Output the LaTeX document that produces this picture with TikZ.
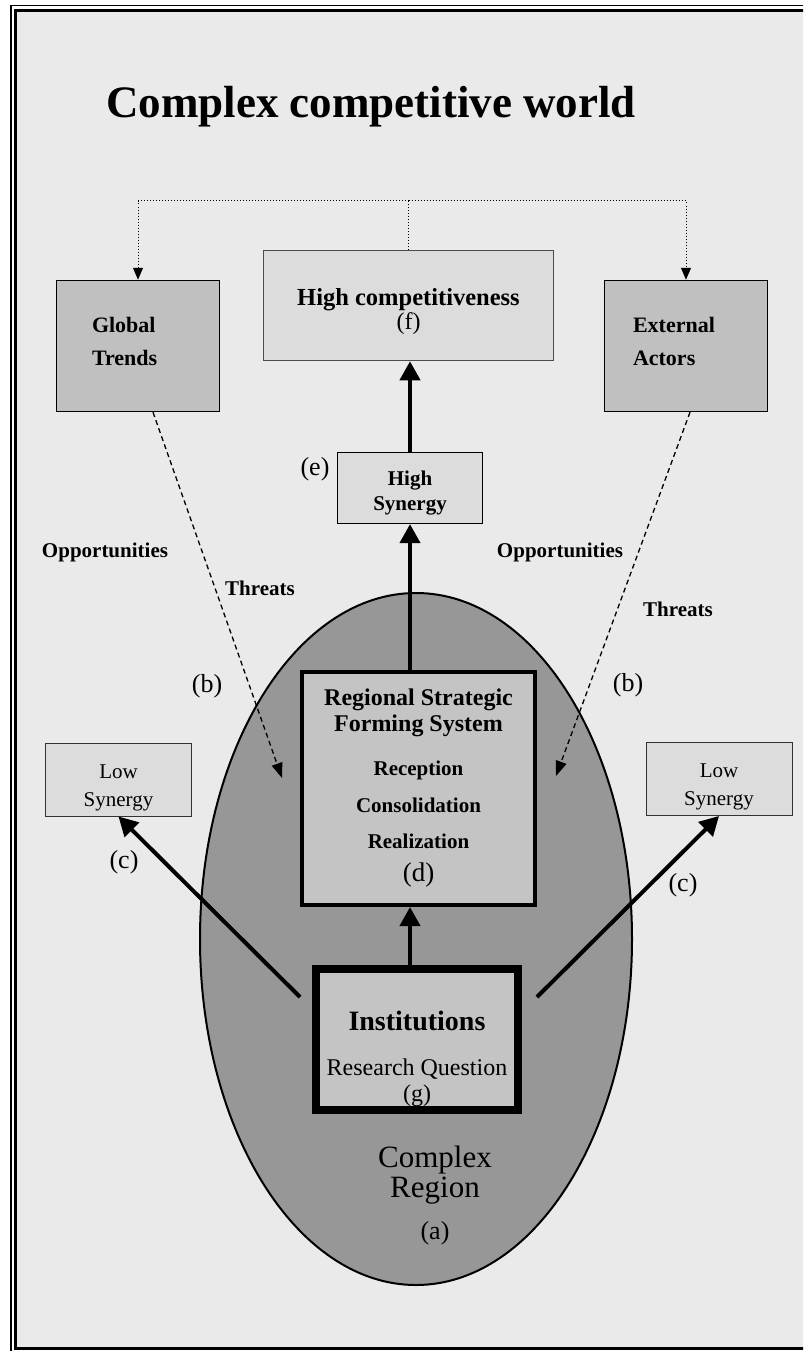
\documentclass[tikz,border=0pt]{standalone}
\usepackage{fontspec}
\setmainfont{Liberation Serif}
\usetikzlibrary{arrows.meta, positioning, calc, shapes.geometric}

\definecolor{paper}{HTML}{EAEAEA}
\definecolor{darkbox}{HTML}{C0C0C0}
\definecolor{lightbox}{HTML}{DCDCDC}
\definecolor{midbox}{HTML}{C4C4C4}
\definecolor{regiongray}{HTML}{979797}

% struts to push box text down or up
\newcommand{\padtop}[1]{\rule{0pt}{#1}}
\newcommand{\padbot}[1]{\rule[-#1]{0pt}{#1}}

\begin{document}
\begin{tikzpicture}[
    x=1pt, y=-1pt,
    >={Triangle[length=19pt, width=20pt]},
    actorbox/.style={rectangle, draw, line width=1.5pt, fill=darkbox, minimum width=163pt, minimum height=131pt, inner sep=0pt, align=left, font=\fontsize{22}{33}\selectfont\bfseries},
    outcomebox/.style={rectangle, draw=black!70, line width=1.5pt, fill=lightbox, minimum width=290pt, minimum height=110pt, align=center, font=\fontsize{24.5}{24}\selectfont\bfseries},
    synbox/.style={rectangle, draw, line width=1.2pt, fill=lightbox, minimum width=145pt, minimum height=71pt, align=center, font=\fontsize{21}{25}\selectfont\bfseries},
    lowbox/.style={rectangle, draw=black!80, line width=1pt, fill=lightbox, minimum width=146pt, minimum height=73pt, align=center, font=\fontsize{21}{28}\selectfont},
    systembox/.style={rectangle, draw, line width=4pt, fill=midbox, minimum width=233pt, minimum height=233pt, align=center, font=\fontsize{24}{26}\selectfont\bfseries},
    instbox/.style={rectangle, draw, line width=8pt, fill=midbox, minimum width=202pt, minimum height=141pt},
    region/.style={ellipse, draw, line width=2pt, fill=regiongray, minimum width=432pt, minimum height=692pt},
    letter/.style={font=\fontsize{26}{30}\selectfont},
    side/.style={font=\fontsize{21}{25}\selectfont\bfseries},
    heavy/.style={->, line width=4pt},
    influence/.style={-{Triangle[length=15pt, width=11pt]}, line width=1.3pt, dash pattern=on 5pt off 3.5pt},
    linkdot/.style={line width=1pt, dash pattern=on 1pt off 2pt},
    linkarrow/.style={linkdot, -{Triangle[length=12pt, width=10pt]}}
]
    % --- 1. Page and double frame ---
    \path[use as bounding box, clip] (0,0) rectangle (803,1351);
    \fill[white] (0,0) rectangle (803,1351);
    \draw[line width=1.5pt] (11,5.5) rectangle (815,1360);
    \draw[line width=3pt, fill=paper] (15,10.5) rectangle (808,1348);
    \node (title) [font=\fontsize{45}{50}\selectfont\bfseries, anchor=base] at (371,118) {Complex competitive world};

    % --- 2. The region and its inner boxes ---
    \node (region) [region] at (416,939) {};
    \node (system) [systembox] at (418.5,788.5) {Regional Strategic\\Forming System\\[18pt]{\fontsize{21}{26}\selectfont Reception}\\[11pt]{\fontsize{21}{26}\selectfont Consolidation}\\[10pt]{\fontsize{21}{26}\selectfont Realization}\\[7pt]{\mdseries\fontsize{27}{26}\selectfont (d)}};
    \node (inst) [instbox] at (417,1039.5) {};
    \node (insttext) [align=center, font=\fontsize{24}{26}\selectfont] at (417,1059) {{\bfseries\fontsize{28}{26}\selectfont Institutions}\\[19pt]Research Question\\(g)};
    \node (regname) [align=center, font=\fontsize{31}{30}\selectfont] at (435,1175) {Complex\\Region};
    \node (regtag) [font=\fontsize{26}{28}\selectfont] at (435,1233) {(a)};

    % --- 3. Outside world (top row) ---
    \node (global) [actorbox, text width=92pt] at (138,346) {Global\\Trends\padbot{10pt}};
    \node (external) [actorbox, text width=106pt] at (686,346) {External\\Actors\padbot{10pt}};
    \node (hicomp) [outcomebox] at (408.5,305.5) {\padtop{29pt}High competitiveness\\{\mdseries\fontsize{24}{24}\selectfont (f)}};
    \node (hisyn) [synbox] at (410,488) {\padtop{24pt}High\\Synergy};
    \node (lowL) [lowbox] at (118.5,779.5) {\padtop{30pt}Low\\Synergy};
    \node (lowR) [lowbox] at (719,779) {\padtop{30pt}Low\\Synergy};

    % --- 4. Free labels ---
    \node (oppL) [side] at (105,552) {Opportunities};
    \node (thrL) [side] at (260,588) {Threats};
    \node (bL) [letter] at (207,686) {(b)};
    \node (oppR) [side] at (560,552) {Opportunities};
    \node (thrR) [side] at (678,609) {Threats};
    \node (bR) [letter] at (628,685) {(b)};
    \node (tagE) [letter] at (315,469) {(e)};
    \node (cL) [letter] at (124,862) {(c)};
    \node (cR) [letter] at (683,885) {(c)};

    % --- 5. Connectors ---
    % dotted feedback towards the outside world
    \coordinate (branch) at (hicomp.north |- 0,201);
    \draw[linkdot] (hicomp.north) -- (branch);
    \draw[linkarrow] (branch) -| (global.north);
    \draw[linkarrow] (branch) -| (external.north);
    % vertical chain
    \coordinate (chainbase) at (hisyn.center |- inst.north);
    \draw[heavy] (chainbase) -- (hisyn.center |- system.south);
    \draw[heavy] (hisyn.center |- system.north) -- (hisyn.south);
    \draw[heavy] (hisyn.north) -- (hisyn.center |- hicomp.south);
    % diagonal arrows to low synergy
    \coordinate (leftfoot) at (300,997);
    \coordinate (rightfoot) at (537,997);
    \draw[heavy] (leftfoot) -- (lowL.south);
    \draw[heavy] (rightfoot) -- (lowR.south);
    % dashed influences (b)
    \coordinate (trendsin) at (282,778);
    \coordinate (actorsin) at (556,776);
    \draw[influence] (global.south -| 153,0) -- (trendsin);
    \draw[influence] (external.south -| 690,0) -- (actorsin);
\end{tikzpicture}
\end{document}
